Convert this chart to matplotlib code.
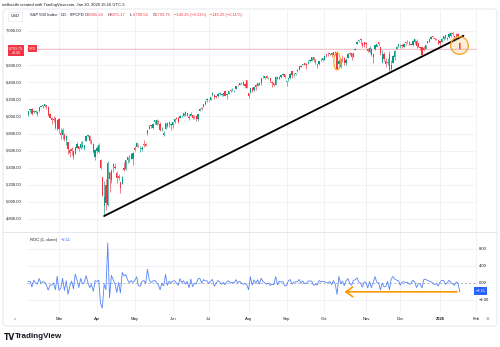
import numpy as np
import matplotlib
matplotlib.use("Agg")
import matplotlib.pyplot as plt
from matplotlib.patches import Ellipse, FancyBboxPatch

# S&P 500 daily candles, 5 Feb 2025 .. 20 Jan 2026 (trading-day index on x)
opens = [
    # Feb
    6020, 6072, 6083, 6047, 6050, 6026, 6061, 6115, 6121, 6118, 6134, 6115, 6026, 5982, 5970, 5981, 5857,
    # Mar
    5968, 5812, 5781, 5785, 5727, 5705, 5603, 5624, 5595, 5564, 5635, 5655, 5632, 5646, 5630, 5718, 5775, 5771, 5696, 5679, 5527,
    # Apr
    5597, 5581, 5492, 5293, 4953, 5194, 4966, 5353, 5255, 5441, 5411, 5335, 5306, 5233, 5207, 5396, 5381, 5489, 5530, 5508, 5499,
    # May
    5626, 5645, 5655, 5605, 5614, 5680, 5679, 5808, 5854, 5896, 5869, 5930, 5903, 5952, 5914, 5841, 5781, 5855, 5926, 5939, 5903,
    # Jun
    5896, 5939, 5978, 5985, 5987, 6005, 6010, 6049, 6009, 5997, 6005, 6013, 5987, 6004, 5970, 6062, 6104, 6112, 6150, 6194,
    # Jul
    6187, 6193, 6246, 6256, 6234, 6241, 6265, 6256, 6247, 6295, 6248, 6264, 6308, 6305, 6307, 6326, 6368, 6371, 6397, 6409, 6375, 6428,
    # Aug
    6271, 6271, 6337, 6310, 6370, 6359, 6390, 6397, 6461, 6451, 6478, 6445, 6448, 6409, 6387, 6371, 6458, 6436, 6457, 6486, 6498,
    # Sep
    6401, 6442, 6456, 6529, 6495, 6498, 6541, 6542, 6588, 6601, 6624, 6610, 6628, 6646, 6655, 6697, 6664, 6608, 6616, 6661, 6661,
    # Oct
    6665, 6732, 6722, 6734, 6747, 6723, 6757, 6741, 6612, 6579, 6677, 6687, 6620, 6690, 6737, 6737, 6701, 6774, 6845, 6885, 6909, 6865, 6869,
    # Nov
    6865, 6790, 6760, 6794, 6701, 6787, 6815, 6866, 6815, 6640, 6726, 6647, 6629, 6732, 6555, 6624, 6697, 6787, 6822,
    # Dec
    6813, 6830, 6815, 6866, 6866, 6872, 6842, 6840, 6866, 6888, 6856, 6808, 6813, 6800, 6795, 6863, 6876, 6910, 6936, 6914, 6904, 6892,
    # Jan
    6878, 6877, 6909, 6948, 6910, 6925, 6943, 6977, 6945, 6956, 6961, 6865.24,
]
highs = [
    6062, 6084, 6101, 6073, 6076, 6064, 6116, 6127, 6129, 6145, 6134, 6119, 6043, 5992, 6009, 5994, 5959,
    5986, 5866, 5860, 5812, 5783, 5705, 5636, 5642, 5598, 5645, 5704, 5659, 5716, 5711, 5670, 5775, 5786, 5783, 5733, 5685, 5617,
    5651, 5695, 5500, 5293, 5247, 5267, 5481, 5353, 5381, 5460, 5450, 5367, 5329, 5233, 5309, 5469, 5489, 5528, 5553, 5572, 5581,
    5659, 5700, 5683, 5649, 5654, 5721, 5692, 5845, 5906, 5906, 5925, 5959, 5969, 5954, 5938, 5878, 5829, 5922, 5930, 5944, 5922,
    5937, 5981, 5991, 5999, 6016, 6021, 6043, 6059, 6045, 6026, 6050, 6023, 6018, 6019, 6028, 6102, 6108, 6146, 6187, 6215,
    6210, 6227, 6285, 6262, 6243, 6269, 6290, 6269, 6272, 6303, 6267, 6301, 6316, 6336, 6309, 6360, 6381, 6390, 6402, 6410, 6392, 6428,
    6271, 6332, 6344, 6350, 6380, 6396, 6409, 6446, 6481, 6474, 6481, 6458, 6456, 6410, 6394, 6479, 6466, 6468, 6487, 6508, 6499,
    6418, 6454, 6503, 6533, 6508, 6514, 6555, 6593, 6600, 6617, 6627, 6625, 6657, 6672, 6698, 6698, 6668, 6618, 6653, 6679, 6689,
    6718, 6734, 6750, 6745, 6755, 6755, 6762, 6765, 6667, 6680, 6714, 6700, 6690, 6744, 6752, 6741, 6748, 6807, 6880, 6895, 6921, 6871, 6871,
    6866, 6797, 6826, 6799, 6730, 6841, 6849, 6870, 6818, 6775, 6754, 6683, 6683, 6771, 6664, 6715, 6777, 6829, 6850,
    6843, 6851, 6857, 6868, 6895, 6879, 6861, 6896, 6903, 6902, 6863, 6817, 6817, 6826, 6842, 6880, 6910, 6937, 6945, 6917, 6910, 6895,
    6887, 6921, 6946, 6953, 6929, 6972, 6986, 6986, 6947, 6972, 6973, 6871.17,
]
lows = [
    6007, 6053, 6020, 6045, 6042, 6004, 6051, 6107, 6100, 6111, 6084, 6008, 5977, 5909, 5933, 5858, 5837,
    5810, 5732, 5742, 5711, 5667, 5565, 5529, 5547, 5505, 5563, 5631, 5597, 5622, 5632, 5603, 5718, 5764, 5695, 5683, 5572, 5489,
    5572, 5578, 5391, 5070, 4835, 4911, 4950, 5115, 5220, 5349, 5386, 5220, 5255, 5101, 5207, 5357, 5371, 5455, 5468, 5505, 5434,
    5597, 5643, 5640, 5586, 5593, 5640, 5650, 5781, 5853, 5868, 5856, 5907, 5896, 5915, 5830, 5825, 5768, 5854, 5882, 5876, 5844,
    5862, 5929, 5966, 5921, 5978, 5994, 6000, 6002, 6003, 5963, 6004, 5974, 5970, 5952, 5944, 6060, 6081, 6107, 6132, 6174,
    6177, 6188, 6241, 6201, 6215, 6226, 6254, 6244, 6242, 6243, 6201, 6263, 6286, 6303, 6282, 6317, 6361, 6364, 6375, 6366, 6331, 6335,
    6212, 6271, 6286, 6302, 6312, 6355, 6364, 6374, 6450, 6441, 6446, 6437, 6401, 6343, 6360, 6369, 6438, 6433, 6452, 6470, 6445,
    6360, 6418, 6443, 6451, 6477, 6486, 6523, 6540, 6577, 6599, 6599, 6552, 6609, 6634, 6653, 6643, 6619, 6570, 6603, 6645, 6644,
    6659, 6700, 6706, 6720, 6700, 6718, 6718, 6550, 6612, 6569, 6633, 6606, 6597, 6688, 6715, 6656, 6699, 6773, 6845, 6866, 6846, 6818, 6818,
    6799, 6754, 6743, 6708, 6631, 6775, 6810, 6822, 6723, 6631, 6652, 6580, 6605, 6522, 6521, 6620, 6663, 6786, 6818,
    6800, 6806, 6811, 6837, 6858, 6841, 6832, 6828, 6843, 6801, 6810, 6775, 6720, 6764, 6790, 6862, 6871, 6907, 6921, 6895, 6896, 6844,
    6826, 6870, 6898, 6910, 6895, 6919, 6935, 6943, 6888, 6930, 6926, 6790.52,
]
closes = [
    6061, 6083, 6026, 6066, 6068, 6052, 6115, 6115, 6129, 6144, 6117, 6013, 5983, 5955, 5956, 5861, 5955,
    5850, 5778, 5842, 5739, 5770, 5615, 5572, 5599, 5522, 5639, 5675, 5615, 5675, 5663, 5668, 5768, 5777, 5712, 5693, 5581, 5612,
    5633, 5671, 5397, 5074, 5062, 4982, 5457, 5268, 5363, 5406, 5397, 5276, 5283, 5158, 5288, 5376, 5485, 5525, 5529, 5561, 5569,
    5604, 5687, 5650, 5607, 5631, 5664, 5660, 5844, 5886, 5892, 5917, 5958, 5964, 5941, 5845, 5842, 5802, 5922, 5889, 5913, 5912,
    5936, 5970, 5971, 5939, 6000, 6006, 6039, 6022, 6045, 5977, 6033, 5982, 5981, 5967, 6025, 6092, 6092, 6141, 6173, 6205,
    6198, 6227, 6279, 6230, 6226, 6263, 6280, 6260, 6269, 6244, 6264, 6297, 6297, 6306, 6309, 6359, 6363, 6389, 6390, 6371, 6362, 6339,
    6238, 6330, 6299, 6345, 6340, 6389, 6374, 6446, 6466, 6469, 6450, 6449, 6412, 6396, 6370, 6467, 6439, 6466, 6481, 6502, 6460,
    6416, 6448, 6502, 6482, 6495, 6513, 6532, 6587, 6584, 6615, 6606, 6600, 6632, 6664, 6693, 6657, 6637, 6605, 6644, 6661, 6688,
    6711, 6715, 6716, 6740, 6715, 6754, 6735, 6552, 6654, 6644, 6671, 6630, 6664, 6735, 6735, 6699, 6738, 6792, 6875, 6891, 6890, 6822, 6840,
    6852, 6772, 6796, 6720, 6729, 6832, 6846, 6850, 6737, 6734, 6672, 6617, 6642, 6538, 6603, 6705, 6766, 6813, 6849,
    6813, 6829, 6850, 6857, 6870, 6846, 6840, 6887, 6901, 6827, 6816, 6800, 6721, 6775, 6835, 6878, 6910, 6932, 6930, 6905, 6896, 6845,
    6858, 6902, 6944, 6921, 6921, 6966, 6977, 6964, 6927, 6944, 6940, 6793.75,
]
prev_close = 6037.88  # close of 4 Feb 2025, for the first ROC point

month_labels = ["Mar", "Apr", "May", "Jun", "Jul", "Aug", "Sep", "Oct", "Nov", "Dec", "2026", "Feb"]
month_index = [17, 38, 59, 80, 100, 122, 143, 164, 187, 206, 228, 248]
price_ticks = [4800, 5000, 5200, 5400, 5600, 5800, 6000, 6200, 6400, 6600, 6800, 7000]
roc_ticks = [8, 4, 0, -4]

# drawings on the chart
trend_x = [42, 241]
trend_y = [4835, 6945]
oct10_index, oct10_mid = 171, 6645
last_circle = (238.8, 6830)
arrow_x = [239, 173.5]
arrow_y = -2.1

GREEN = "#089981"
RED = "#f23645"
ORANGE = "#f7a324"
BLUE = "#2962ff"
GRID = "#eef0f5"
TEXT = "#131722"
W, H = 500, 347


def px(x, y):
    return x / W, 1 - y / H


plt.rcParams["font.family"] = ["Liberation Sans", "DejaVu Sans"]
fig = plt.figure(figsize=(W / 100, H / 100), dpi=100)
fig.patch.set_facecolor("white")

ax = fig.add_axes([27 / W, 1 - 232 / H, 450 / W, 222 / H])
rx = fig.add_axes([27 / W, 1 - 312 / H, 450 / W, 80 / H])
for a in (ax, rx):
    a.set_xlim(-0.72, 248.5)
    a.set_xticks([])
    a.set_yticks([])
    for s in a.spines.values():
        s.set_visible(False)
    for m in month_index:
        a.axvline(m, color=GRID, lw=0.6, zorder=0)

ax.set_ylim(4648, 7246)
rx.set_ylim(-6.9, 12.14)

for p in price_ticks:
    ax.axhline(p, color=GRID, lw=0.6, zorder=0)
for r in roc_ticks:
    if r != 0:
        rx.axhline(r, color=GRID, lw=0.6, zorder=0)

# candles
o = np.array(opens, dtype=float)
h = np.array(highs, dtype=float)
l = np.array(lows, dtype=float)
c = np.array(closes, dtype=float)
idx = np.arange(len(c))
colors = np.where(c >= o, GREEN, RED)
ax.vlines(idx, l, h, colors=colors, lw=0.45, zorder=2)
body = np.maximum(np.abs(c - o), 4)
ax.bar(idx, body, bottom=np.minimum(o, c), width=0.7, color=colors, lw=0, zorder=3)

# last price line
ax.axhline(c[-1], color=RED, lw=0.5, alpha=0.45, zorder=1)

# trend line and highlights
ax.plot(trend_x, trend_y, color="black", lw=1.3, zorder=4, solid_capstyle="round")
ax.add_patch(Ellipse((oct10_index, oct10_mid), 3.6, 205, fill=False,
                     edgecolor=ORANGE, lw=0.8, zorder=5))
ax.add_patch(Ellipse(last_circle, 9.8, 206, facecolor=ORANGE, alpha=0.18,
                     edgecolor="none", zorder=5))
ax.add_patch(Ellipse(last_circle, 9.8, 206, fill=False,
                     edgecolor=ORANGE, lw=0.9, zorder=5))

# ROC(1, close)
all_close = np.concatenate([[prev_close], c])
roc = np.diff(all_close) / all_close[:-1] * 100
rx.axhline(0, color="#9598a1", lw=0.5, ls=(0, (3, 3)), zorder=1)
rx.plot(idx, roc, color="#5683f5", lw=0.6, zorder=3)
rx.annotate("", xy=(arrow_x[1], arrow_y), xytext=(arrow_x[0], arrow_y),
            arrowprops=dict(arrowstyle="->,head_length=0.5,head_width=0.35",
                            color="#ff9800", lw=1.2), zorder=4)

# frame
fig.patches.append(FancyBboxPatch(px(3, 326), 494 / W, 317 / H,
                                  boxstyle="round,pad=0,rounding_size=0.008",
                                  transform=fig.transFigure, fill=False,
                                  edgecolor="#e0e3eb", lw=0.6))
fig.add_artist(plt.Line2D([3 / W, 497 / W], [1 - 232 / H] * 2,
                          color="#e0e3eb", lw=0.6))

# texts
fs = 3.0
fig.text(*px(2, 5), "neilkasthi created with TradingView.com, Jan 20, 2026 15:16 UTC-5",
         fontsize=fs, color=TEXT, va="center")
fig.text(*px(15, 16), "USD", fontsize=fs, color=TEXT, va="center", ha="center",
         bbox=dict(boxstyle="square,pad=0.6", fc="white", ec="#e0e3eb", lw=0.4))
fig.text(*px(30, 15), "S&P 500 Index · 1D · SPCFD", fontsize=fs, color=TEXT, va="center")
x0 = 85
for lab, val in [("O", "6,865.24"), ("H", "6,871.17"), ("L", "6,790.52"), ("C", "6,793.75")]:
    fig.text(*px(x0, 15), lab, fontsize=fs, color=TEXT, va="center")
    fig.text(*px(x0 + 2.4, 15), val, fontsize=fs, color=RED, va="center")
    x0 += 22.5
fig.text(*px(x0 - 1, 15), "−146.25 (−2.11%)   −146.25 (−2.11%)", fontsize=fs, color=RED, va="center")

# left price scale (the 6,800 level sits under the last-price tag)
for p in price_ticks:
    if p == 6800:
        continue
    y = 31 + (7000 - p) * 0.08545
    fig.text(*px(6, y), f"{p:,.2f}", fontsize=fs, color=TEXT, va="center")

fig.text(*px(16, 50.5), "6,793.75\n44:00", fontsize=2.6, color="white", va="center",
         ha="center", linespacing=1.1,
         bbox=dict(boxstyle="square,pad=0.3", fc=RED, ec="none"))
fig.text(*px(32.5, 48.5), "SPX", fontsize=2.6, color="white", va="center", ha="center",
         bbox=dict(boxstyle="square,pad=0.3", fc=RED, ec="none"))

fig.text(*px(30, 240), "ROC (1, close)", fontsize=fs, color=TEXT, va="center")
fig.text(*px(61, 240), "−2.11", fontsize=fs, color=BLUE, va="center")
for r in roc_ticks:
    y = 283 - r * 4.2
    fig.text(*px(479, y), f"{r:.2f}".replace("-", "−"), fontsize=fs, color=TEXT, va="center")
fig.text(*px(480.5, 291), "−2.11", fontsize=fs, color="white", va="center", ha="center",
         bbox=dict(boxstyle="square,pad=0.4", fc=BLUE, ec="none"))

for lab, m in zip(month_labels, month_index):
    x = 28.3 + m * 1.806
    fig.text(*px(x, 319), lab, fontsize=fs, color=TEXT, va="center", ha="center",
             weight="bold" if lab == "2026" else "normal")
fig.text(*px(15, 319), "z", fontsize=fs, color="#787b86", va="center", ha="center")
fig.text(*px(487, 319), "⚙", fontsize=fs, color="#787b86", va="center", ha="center",
         family="DejaVu Sans")

fig.text(*px(4, 337), "TV", fontsize=5.5, color=TEXT, va="center", weight="heavy",
         family="DejaVu Sans")
fig.text(*px(15, 337), "TradingView", fontsize=5.8, color=TEXT, va="center", weight="bold")

fig.savefig("out.png", dpi=100, facecolor="white")
